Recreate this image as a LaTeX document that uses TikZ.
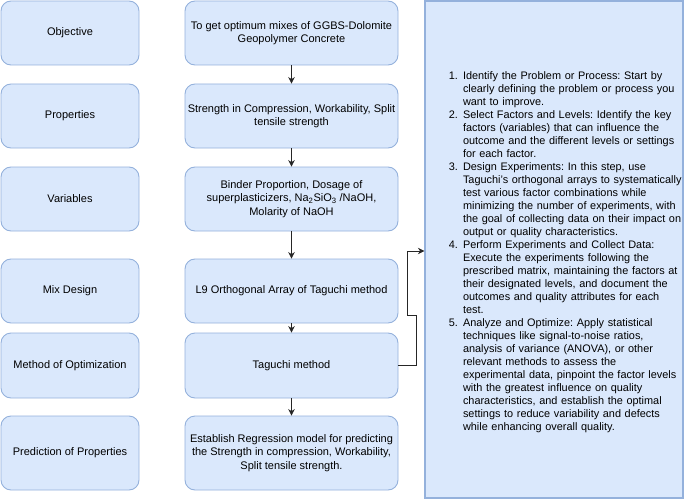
\documentclass[tikz,border=0pt]{standalone}
\usepackage{fontspec}
\setmainfont{Liberation Sans}
\usepackage{enumitem}
\usepackage{tikz}
\usetikzlibrary{arrows.meta}
\frenchspacing
\definecolor{boxfill}{HTML}{DAE8FC}
\definecolor{boxline}{HTML}{94B1DC}
\tikzset{stage/.style={draw=boxline,fill=boxfill,line width=0.9pt,rounded corners=10pt,align=center,
    inner sep=1pt,font=\fontsize{11}{13.5}\selectfont},
  side/.style={stage,minimum width=138pt},
  main/.style={stage,minimum width=213pt},
  flow/.style={draw=black!85,line width=0.8pt,-{Stealth[length=6.5pt,width=6.5pt]}}}

\begin{document}
\begin{tikzpicture}[x=1pt,y=-1pt]
\useasboundingbox (0,0) rectangle (685,500);
\node[side,minimum height=64pt] (obj) at (70,33) {Objective};
\node[side,minimum height=64pt] (prop) at (70,116) {Properties};
\node[side,minimum height=64pt] (var) at (70,199) {Variables};
\node[side,minimum height=64pt] (mix) at (70,291) {Mix Design};
\node[side,minimum height=65pt] (meth) at (70,365.5) {Method of Optimization};
\node[side,minimum height=74pt] (pred) at (70,453) {Prediction of Properties};

\node[main,minimum height=64pt] (goal) at (291.5,33) {To get optimum mixes of GGBS-Dolomite\\Geopolymer Concrete};
\node[main,minimum height=64pt] (str) at (291.5,116) {Strength in Compression, Workability, Split\\tensile strength};
\node[main,minimum height=64pt] (bind) at (291.5,199) {Binder Proportion, Dosage of\\superplasticizers, Na\textsubscript{2}SiO\textsubscript{3} /NaOH,\\Molarity of NaOH};
\node[main,minimum height=64pt] (arr) at (291.5,291) {L9 Orthogonal Array of Taguchi method};
\node[main,minimum height=65pt] (tag) at (291.5,365.5) {Taguchi method};
\node[main,minimum height=74pt] (reg) at (291.5,453) {Establish Regression model for predicting\\the Strength in compression, Workability,\\Split tensile strength.};

\node[draw=boxline,fill=boxfill,line width=1.2pt,minimum width=258pt,minimum height=497pt,
  text width=258pt,inner xsep=0pt,align=left,font=\fontsize{10.9}{13}\selectfont] (steps) at (554,249.5) {%
  \begin{enumerate}[leftmargin=38pt,rightmargin=-8pt,labelsep=5pt,nosep]
  \item Identify the Problem or Process: Start by\\clearly defining the problem or process you\\want to improve.
  \item Select Factors and Levels: Identify the key\\factors (variables) that can influence the\\outcome and the different levels or settings\\for each factor.
  \item Design Experiments: In this step, use\\Taguchi's orthogonal arrays to systematically\\test various factor combinations while\\minimizing the number of experiments, with\\the goal of collecting data on their impact on\\output or quality characteristics.
  \item Perform Experiments and Collect Data:\\Execute the experiments following the\\prescribed matrix, maintaining the factors at\\their designated levels, and document the\\outcomes and quality attributes for each\\test.
  \item Analyze and Optimize: Apply statistical\\techniques like signal-to-noise ratios,\\analysis of variance (ANOVA), or other\\relevant methods to assess the\\experimental data, pinpoint the factor levels\\with the greatest influence on quality\\characteristics, and establish the optimal\\settings to reduce variability and defects\\while enhancing overall quality.
  \end{enumerate}};

\draw[flow] (goal) -- (str);
\draw[flow] (str) -- (bind);
\draw[flow] (bind) -- (arr);
\draw[flow] (arr) -- (tag);
\draw[flow] (tag) -- (reg);
\coordinate (j1) at (416,315);
\coordinate (j2) at (407,251);
\draw[flow] (tag.east) -| (j1) -- (j1 -| j2) -- (j2) -- (j2 -| steps.west);
\end{tikzpicture}
\end{document}
